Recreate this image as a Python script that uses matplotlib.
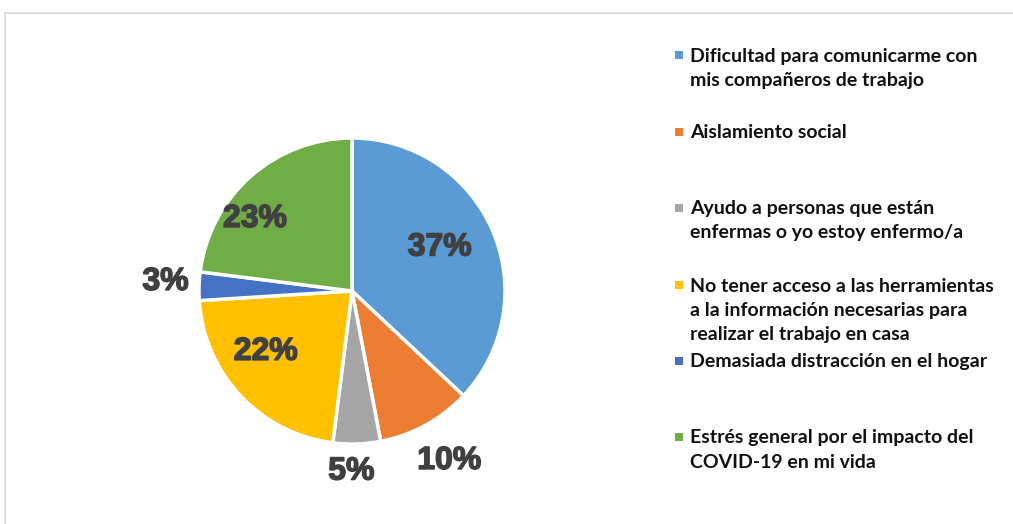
import numpy as np
import matplotlib.pyplot as plt
from matplotlib.patches import Rectangle
import matplotlib.patheffects as pe

categorias = [
    "Dificultad para comunicarme con\nmis compañeros de trabajo",
    "Aislamiento social",
    "Ayudo a personas que están\nenfermas o yo estoy enfermo/a",
    "No tener acceso a las herramientas\na la información necesarias para\nrealizar el trabajo en casa",
    "Demasiada distracción en el hogar",
    "Estrés general por el impacto del\nCOVID-19 en mi vida",
]
porcentajes = [37, 10, 5, 22, 3, 23]
colores = ["#5B9BD5", "#ED7D31", "#A5A5A5", "#FFC000", "#4472C4", "#70AD47"]

W, H = 1013, 524
fig = plt.figure(figsize=(W / 100, H / 100), dpi=100)

# marco del grafico
fig.patches.append(Rectangle((5 / W, -0.05), 1.1, 1 - 13 / H + 0.05, transform=fig.transFigure,
                             fill=False, edgecolor="#D9D9D9", linewidth=1.2))

cx, cy, r = 352, 291, 153
ax = fig.add_axes([(cx - r) / W, (H - cy - r) / H, 2 * r / W, 2 * r / H])
wedges, _ = ax.pie(porcentajes, colors=colores, startangle=90, counterclock=False,
                   wedgeprops={"edgecolor": "white", "linewidth": 2.5})
ax.set_xlim(-1, 1)
ax.set_ylim(-1, 1)
ax.set_aspect("equal")
ax.axis("off")

# posicion de etiquetas (distancia y desplazamiento angular respecto al centro de la porcion)
dist = [0.64, 1.28, 1.18, 0.69, 1.22, 0.79]
ajuste = [3, 1, -2, -8, -1, 12]
for w, p, d, a in zip(wedges, porcentajes, dist, ajuste):
    ang = np.deg2rad((w.theta1 + w.theta2) / 2 + a)
    ax.text(d * np.cos(ang), d * np.sin(ang), f"{p}%", ha="center", va="center",
            fontsize=23, fontweight="heavy", color="#404040", family="Liberation Sans",
            clip_on=False,
            path_effects=[pe.withStroke(linewidth=1.1, foreground="#404040")])

# leyenda manual
centros = [68.5, 132, 220.5, 310.7, 361, 450]
primera = [55, 132, 208, 285, 361, 437]
for lab, col, yc, y1 in zip(categorias, colores, centros, primera):
    fig.patches.append(Rectangle((675 / W, (H - y1 - 4) / H), 8 / W, 8 / H,
                                 transform=fig.transFigure, facecolor=col, edgecolor="none"))
    fig.text(690 / W, (H - yc) / H, lab, ha="left", va="center", fontsize=14,
             fontweight="bold", family="Lato", color="#111111", linespacing=1.5)

fig.savefig("out.png", dpi=100)
